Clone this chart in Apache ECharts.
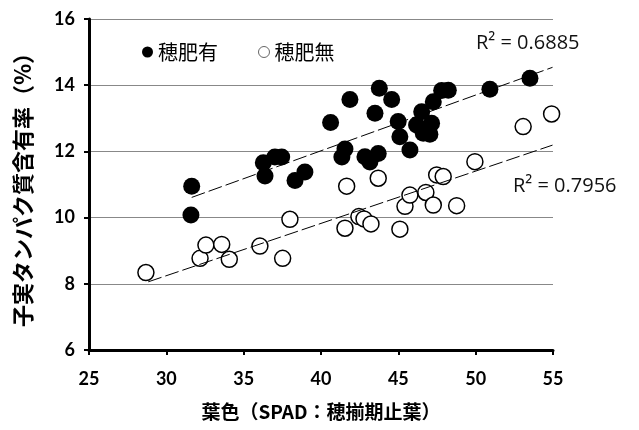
<!DOCTYPE html>
<html><head><meta charset="utf-8">
<script src="https://cdn.jsdelivr.net/npm/echarts@6/dist/echarts.min.js"></script>
<style>html,body{margin:0;padding:0;background:#fff}#c{width:639px;height:430px}</style>
</head><body><div id="c"></div>
<script>
// 穂肥有 (filled)
const withX = [31.64,31.59,36.27,36.38,37.02,37.46,38.32,38.96,40.62,41.55,41.35,41.87,42.84,43.70,43.16,43.49,43.77,44.57,44.99,45.10,45.75,46.18,46.51,46.61,47.15,47.26,47.80,48.23,50.92,53.51,47.04];
const withY = [10.95,10.08,11.66,11.26,11.83,11.83,11.12,11.38,12.87,12.07,11.83,13.57,11.84,11.94,11.68,13.15,13.91,13.57,12.90,12.44,12.04,12.80,13.20,12.55,12.85,13.50,13.84,13.85,13.88,14.21,12.52];
// 穂肥無 (open)
const withoutX = [28.68,32.18,32.56,33.58,34.07,36.05,37.52,37.99,41.66,41.55,42.45,42.78,43.23,43.70,45.10,45.43,45.75,46.78,47.26,47.48,47.90,48.77,49.95,53.07,54.91];
const withoutY = [8.34,8.77,9.17,9.19,8.74,9.14,8.77,9.95,10.95,9.68,10.03,9.96,9.81,11.19,9.65,10.34,10.68,10.76,10.38,11.29,11.24,10.36,11.69,12.75,13.13];
// trend line end points
const trendWithX = [31.64, 54.97];
const trendWithY = [10.61, 14.54];
const trendWithoutX = [28.83, 54.97];
const trendWithoutY = [8.06, 12.19];
const r2Labels = ['R\u00b2 = 0.6885', 'R\u00b2 = 0.7956'];
const seriesNames = ['穂肥有', '穂肥無'];
const xTitle = '葉色（SPAD：穂揃期止葉）';
const yTitle = '子実タンパク質含有率（%）';

const zip = (a, b) => a.map((v, i) => [v, b[i]]);
const jp = '"Noto Sans CJK JP", sans-serif';
const num = 'Lato, "Open Sans", sans-serif';

const chart = echarts.init(document.getElementById('c'), null, {renderer: 'canvas'});
chart.setOption({
  animation: false,
  grid: {left: 89, right: 86, top: 19, bottom: 80, containLabel: false},
  legend: {
    data: [
      {name: seriesNames[0], itemStyle: {color: '#000'}},
      {name: seriesNames[1], itemStyle: {color: '#fff', borderColor: '#666', borderWidth: 1}}
    ],
    left: 137, top: 37, icon: 'circle', itemWidth: 11, itemHeight: 11, itemGap: 40,
    itemStyle: {},
    textStyle: {fontFamily: jp, fontSize: 20, color: '#000'}
  },
  xAxis: {
    type: 'value', min: 25, max: 55, interval: 5,
    name: xTitle, nameLocation: 'middle', nameGap: 52,
    nameTextStyle: {fontFamily: jp, fontSize: 19, fontWeight: 'bold', color: '#000'},
    axisLine: {onZero: false, lineStyle: {color: '#000', width: 3}},
    axisTick: {length: 5, lineStyle: {color: '#000', width: 2}},
    axisLabel: {margin: 20, fontFamily: num, fontSize: 18, fontWeight: 'bold', color: '#000'},
    splitLine: {show: false}
  },
  yAxis: {
    type: 'value', min: 6, max: 16, interval: 2,
    name: yTitle, nameLocation: 'middle', nameGap: 55, nameRotate: 90,
    nameTextStyle: {fontFamily: jp, fontSize: 22, fontWeight: 'bold', color: '#000'},
    axisLine: {onZero: false, lineStyle: {color: '#000', width: 3}},
    axisTick: {length: 5, lineStyle: {color: '#000', width: 2}},
    axisLabel: {margin: 14, fontFamily: num, fontSize: 18, fontWeight: 'bold', color: '#000'},
    splitLine: {lineStyle: {color: '#888', width: 1}}
  },
  series: [
    {
      name: seriesNames[0], type: 'scatter', data: zip(withX, withY),
      symbol: 'circle', symbolSize: 17, itemStyle: {color: '#000', opacity: 1}, z: 3
    },
    {
      name: seriesNames[1], type: 'scatter', data: zip(withoutX, withoutY),
      symbol: 'circle', symbolSize: 16, itemStyle: {color: '#fff', borderColor: '#000', borderWidth: 1.5, opacity: 1}, z: 3
    },
    {
      name: 'trend1', type: 'line', data: zip(trendWithX, trendWithY), showSymbol: false, symbol: 'none',
      lineStyle: {color: '#000', width: 1, type: [14, 4]}, z: 4, silent: true
    },
    {
      name: 'trend2', type: 'line', data: zip(trendWithoutX, trendWithoutY), showSymbol: false, symbol: 'none',
      lineStyle: {color: '#000', width: 1, type: [14, 4]}, z: 4, silent: true
    }
  ],
  graphic: [
    {type: 'text', left: 476, top: 33, style: {text: r2Labels[0], font: '20px "Open Sans", sans-serif', fill: '#111'}},
    {type: 'text', left: 513, top: 176, style: {text: r2Labels[1], font: '20px "Open Sans", sans-serif', fill: '#111'}}
  ]
});
</script>
</body></html>
